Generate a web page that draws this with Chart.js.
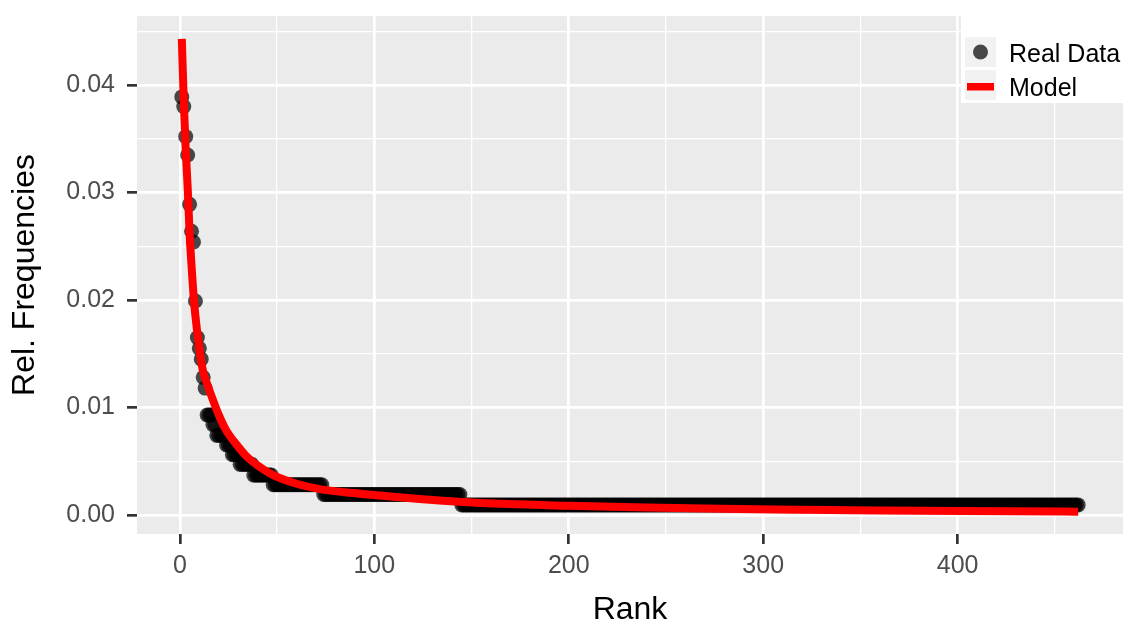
<!DOCTYPE html>
<html>
<head>
<meta charset="utf-8">
<script src="https://cdn.jsdelivr.net/npm/chart.js@4.4.1/dist/chart.umd.min.js"></script>
<style>
    html, body { margin: 0; padding: 0; background: #ffffff; }
    #wrap { width: 1138px; height: 630px; }
</style>
</head>
<body>
<div id="wrap"><canvas id="zipfChart" width="1138" height="630"></canvas></div>
<script>
// real data: the 13 most frequent words one by one, then words grouped by shared frequency
const topWordFreqs = [0.0389, 0.0380, 0.0352, 0.0335, 0.0289, 0.0264, 0.0254, 0.0199, 0.0165, 0.0155, 0.0145, 0.0128, 0.0118];
const levelFreqs = [0.0093, 0.0084, 0.0074, 0.0065, 0.0056, 0.0047, 0.0037, 0.0028, 0.0019, 0.00093];
const wordsPerLevel = [3, 2, 5, 3, 4, 7, 10, 26, 71, 318];

// fitted model
const modelRanks = [1, 2, 3, 4, 5, 6, 7, 8, 10, 12, 14, 17, 20, 24, 28, 34, 40, 48, 60, 72, 85, 100, 125, 155, 200, 240, 278, 320, 360, 402, 462];
const modelFreqs = [0.0443, 0.0385, 0.0340, 0.0305, 0.0262, 0.0232, 0.0205, 0.0185, 0.0155, 0.0133, 0.0122, 0.0107, 0.0093, 0.0078, 0.0068, 0.0055, 0.0046, 0.0037, 0.0029, 0.0024, 0.0021, 0.00185, 0.00145, 0.00110, 0.00085, 0.00068, 0.00056, 0.00047, 0.00040, 0.00035, 0.00030];

// grid lines (major + minor) and the labels on the major ones
const xGridValues = [0, 50, 100, 150, 200, 250, 300, 350, 400, 450];
const xMajorValues = [0, 100, 200, 300, 400];
const xTickLabels = ["0", "100", "200", "300", "400"];
const yGridValues = [0, 0.005, 0.01, 0.015, 0.02, 0.025, 0.03, 0.035, 0.04, 0.045];
const yMajorValues = [0, 0.01, 0.02, 0.03, 0.04];
const yTickLabels = ["0.00", "0.01", "0.02", "0.03", "0.04"];

const seriesNames = ["Real Data", "Model"];

const FONT = "'Liberation Sans', Arial, sans-serif";
const PANEL_BG = "#EBEBEB";
const POINT_COLOR = "rgba(0,0,0,0.7)";
const MODEL_COLOR = "#FF0000";

function buildRealPoints() {
    const pts = topWordFreqs.map((f, i) => ({ x: i + 1, y: f }));
    let rank = pts.length + 1;
    levelFreqs.forEach((f, i) => {
        for (let k = 0; k < wordsPerLevel[i]; k++) {
            pts.push({ x: rank, y: f });
            rank++;
        }
    });
    return pts;
}

function majorIndex(value, majors) {
    return majors.findIndex(m => Math.abs(m - value) < 1e-9);
}

const panelBackground = {
    id: "panelBackground",
    beforeDraw(chart) {
        const a = chart.chartArea;
        const c = chart.ctx;
        c.save();
        c.fillStyle = PANEL_BG;
        c.fillRect(a.left, a.top, a.right - a.left, a.bottom - a.top);
        c.restore();
    }
};

const insideLegend = {
    id: "insideLegend",
    afterDraw(chart) {
        const c = chart.ctx;
        const a = chart.chartArea;
        const boxLeft = a.right - 162;
        c.save();
        c.fillStyle = "#ffffff";
        c.fillRect(boxLeft, a.top, a.right - boxLeft, 87);

        // key boxes
        c.fillStyle = "#F2F2F2";
        c.fillRect(boxLeft + 4, a.top + 21, 31, 30);
        c.fillRect(boxLeft + 4, a.top + 54, 31, 30);

        c.fillStyle = POINT_COLOR;
        c.beginPath();
        c.arc(boxLeft + 19.5, a.top + 36, 7.5, 0, Math.PI * 2);
        c.fill();

        c.fillStyle = MODEL_COLOR;
        c.fillRect(boxLeft + 6, a.top + 67, 27, 7.5);

        c.fillStyle = "#000000";
        c.font = "25px " + FONT;
        c.textAlign = "left";
        c.textBaseline = "middle";
        c.fillText(seriesNames[0], boxLeft + 48, a.top + 39);
        c.fillText(seriesNames[1], boxLeft + 48, a.top + 73);
        c.restore();
    }
};

const ctx = document.getElementById("zipfChart");

new Chart(ctx, {
    type: "scatter",
    data: {
        datasets: [
            {
                label: seriesNames[1],
                data: modelRanks.map((r, i) => ({ x: r, y: modelFreqs[i] })),
                showLine: true,
                borderColor: MODEL_COLOR,
                borderWidth: 8,
                borderCapStyle: "butt",
                cubicInterpolationMode: "monotone",
                pointRadius: 0,
                order: 0
            },
            {
                label: seriesNames[0],
                data: buildRealPoints(),
                backgroundColor: POINT_COLOR,
                borderWidth: 0,
                pointRadius: 7.5,
                order: 1
            }
        ]
    },
    options: {
        responsive: false,
        animation: false,
        events: [],
        devicePixelRatio: 1,
        layout: {
            padding: { top: 16, right: 15, left: 0, bottom: 0 }
        },
        plugins: {
            legend: { display: false },
            tooltip: { enabled: false }
        },
        scales: {
            x: {
                type: "linear",
                min: -22.05,
                max: 485.05,
                afterFit: scale => {
                    scale.height = 96;
                    scale.paddingLeft = 0;
                    scale.paddingRight = 0;
                },
                afterBuildTicks: scale => {
                    scale.ticks = xGridValues.map(v => ({ value: v }));
                },
                border: { display: false },
                grid: {
                    color: "#ffffff",
                    lineWidth: c => (majorIndex(c.tick.value, xMajorValues) >= 0 ? 2.7 : 1.3),
                    tickColor: c => (majorIndex(c.tick.value, xMajorValues) >= 0 ? "#333333" : "rgba(0,0,0,0)"),
                    tickLength: 10,
                    tickWidth: 2.7
                },
                ticks: {
                    autoSkip: false,
                    maxRotation: 0,
                    padding: 7,
                    color: "#4D4D4D",
                    font: { family: FONT, size: 25 },
                    callback: value => {
                        const i = majorIndex(value, xMajorValues);
                        return i >= 0 ? xTickLabels[i] : "";
                    }
                },
                title: {
                    display: true,
                    text: "Rank",
                    color: "#000000",
                    font: { family: FONT, size: 32 },
                    padding: { top: 0, bottom: 1 }
                }
            },
            y: {
                type: "linear",
                min: -0.00178,
                max: 0.04643,
                afterFit: scale => {
                    scale.width = 137;
                    scale.paddingTop = 0;
                    scale.paddingBottom = 0;
                },
                afterBuildTicks: scale => {
                    scale.ticks = yGridValues.map(v => ({ value: v }));
                },
                border: { display: false },
                grid: {
                    color: "#ffffff",
                    lineWidth: c => (majorIndex(c.tick.value, yMajorValues) >= 0 ? 2.7 : 1.3),
                    tickColor: c => (majorIndex(c.tick.value, yMajorValues) >= 0 ? "#333333" : "rgba(0,0,0,0)"),
                    tickLength: 10,
                    tickWidth: 2.7
                },
                ticks: {
                    autoSkip: false,
                    padding: 12,
                    color: "#4D4D4D",
                    font: { family: FONT, size: 25 },
                    callback: value => {
                        const i = majorIndex(value, yMajorValues);
                        return i >= 0 ? yTickLabels[i] : "";
                    }
                },
                title: {
                    display: true,
                    text: "Rel. Frequencies",
                    color: "#000000",
                    font: { family: FONT, size: 32 },
                    padding: { top: 6, bottom: 0 }
                }
            }
        }
    },
    plugins: [panelBackground, insideLegend]
});
</script>
</body>
</html>
